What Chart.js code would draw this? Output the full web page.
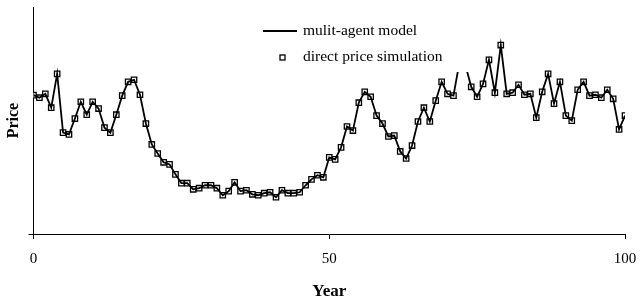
<!DOCTYPE html>
<html>
<head>
<meta charset="utf-8">
<script src="https://cdn.jsdelivr.net/npm/chart.js@4/dist/chart.umd.min.js"></script>
<style>
  body { margin: 0; background: #fff; }
  #wrap { width: 640px; height: 300px; }
</style>
</head>
<body>
<div id="wrap"><canvas id="priceChart"></canvas></div>
<script>
// years 0..100
const years = Array.from({ length: 101 }, (_, i) => i);

// price (arbitrary units, axis unlabeled)
const modelPrice = [
  61.2, 60.1, 61.8, 55.7, 70.6, 44.7, 43.9, 50.9, 58.3, 52.6,
  58.3, 55.3, 46.9, 44.7, 52.6, 61.0, 67.1, 68.0, 61.4, 48.7,
  39.5, 35.5, 31.6, 30.7, 26.3, 22.4, 22.4, 19.7, 20.2, 21.5,
  21.5, 20.2, 17.1, 18.9, 22.8, 18.9, 19.3, 17.5, 17.1, 18.0,
  18.4, 16.2, 19.3, 18.0, 18.0, 18.4, 21.5, 24.1, 25.9, 25.0,
  33.8, 32.9, 38.2, 47.4, 45.6, 57.9, 62.7, 60.5, 52.2, 48.7,
  43.0, 43.4, 36.4, 33.3, 39.0, 49.6, 55.7, 49.6, 58.8, 67.1,
  61.8, 61.0, 75.4, 74.6, 64.9, 60.5, 66.2, 76.8, 62.3, 83.3,
  61.8, 62.3, 65.8, 61.4, 61.8, 51.3, 62.7, 70.6, 57.5, 67.1,
  52.2, 50.0, 63.6, 67.1, 61.0, 61.4, 60.1, 63.6, 59.6, 46.1,
  52.2
];
const simPrice = modelPrice.slice();

const xTicks = [0, 50, 100];
const seriesNames = ['mulit-agent model', 'direct price simulation'];

const serif = '"Liberation Serif", "Times New Roman", serif';

// legend drawn inside the plot on a white box (it hides the line behind it)
const boxLegend = {
  id: 'boxLegend',
  afterDatasetsDraw(chart) {
    const ctx = chart.ctx;
    ctx.save();
    ctx.fillStyle = '#fff';
    ctx.fillRect(252, 14, 220, 58);
    ctx.strokeStyle = '#000';
    ctx.lineWidth = 1.8;
    ctx.beginPath();
    ctx.moveTo(263, 31);
    ctx.lineTo(297, 31);
    ctx.stroke();
    ctx.lineWidth = 1.3;
    ctx.strokeRect(280, 55, 5, 5);
    ctx.fillStyle = '#000';
    ctx.font = '15.5px ' + serif;
    ctx.textBaseline = 'middle';
    ctx.fillText(seriesNames[0], 303, 31);
    ctx.fillText(seriesNames[1], 303, 57);
    ctx.restore();
  }
};

new Chart(document.getElementById('priceChart'), {
  type: 'line',
  data: {
    datasets: [
      {
        label: seriesNames[0],
        data: years.map((y, i) => ({ x: y, y: modelPrice[i] })),
        borderColor: '#000',
        borderWidth: 1.8,
        pointRadius: 0,
        tension: 0,
        fill: false
      },
      {
        label: seriesNames[1],
        data: years.map((y, i) => ({ x: y, y: simPrice[i] })),
        showLine: false,
        pointStyle: 'rect',
        pointRadius: 3.8,
        pointBorderWidth: 1.3,
        pointBorderColor: '#000',
        pointBackgroundColor: '#fff'
      }
    ]
  },
  options: {
    responsive: true,
    maintainAspectRatio: false,
    animation: false,
    layout: { padding: { top: 6, right: 15, left: 0, bottom: 0 } },
    plugins: {
      legend: { display: false },
      tooltip: { enabled: false }
    },
    scales: {
      x: {
        type: 'linear',
        min: 0,
        max: 100,
        afterBuildTicks: (scale) => { scale.ticks = xTicks.map(v => ({ value: v })); },
        afterFit: (scale) => { scale.height = 66; scale.paddingLeft = 0; scale.paddingRight = 0; },
        grid: { drawOnChartArea: false, drawTicks: true, tickLength: 5, color: '#000' },
        border: { display: true, color: '#000', width: 1 },
        ticks: {
          color: '#000',
          font: { family: serif, size: 15 },
          padding: 11,
          maxRotation: 0
        },
        title: {
          display: true,
          text: 'Year',
          color: '#000',
          font: { family: serif, size: 17, weight: 'bold', lineHeight: 1 },
          padding: { top: 0, bottom: 0 }
        }
      },
      y: {
        min: 0,
        max: 100,
        afterBuildTicks: (scale) => { scale.ticks = [{ value: 0 }]; },
        afterFit: (scale) => { scale.width = 33.5; },
        grid: { drawOnChartArea: false, drawTicks: true, tickLength: 5, color: '#000' },
        border: { display: true, color: '#000', width: 1 },
        ticks: { callback: () => '', padding: 0 },
        title: {
          display: true,
          text: 'Price',
          color: '#000',
          font: { family: serif, size: 16, weight: 'bold', lineHeight: 1 },
          padding: { top: 6, bottom: 0 }
        }
      }
    }
  },
  plugins: [boxLegend]
});
</script>
</body>
</html>
